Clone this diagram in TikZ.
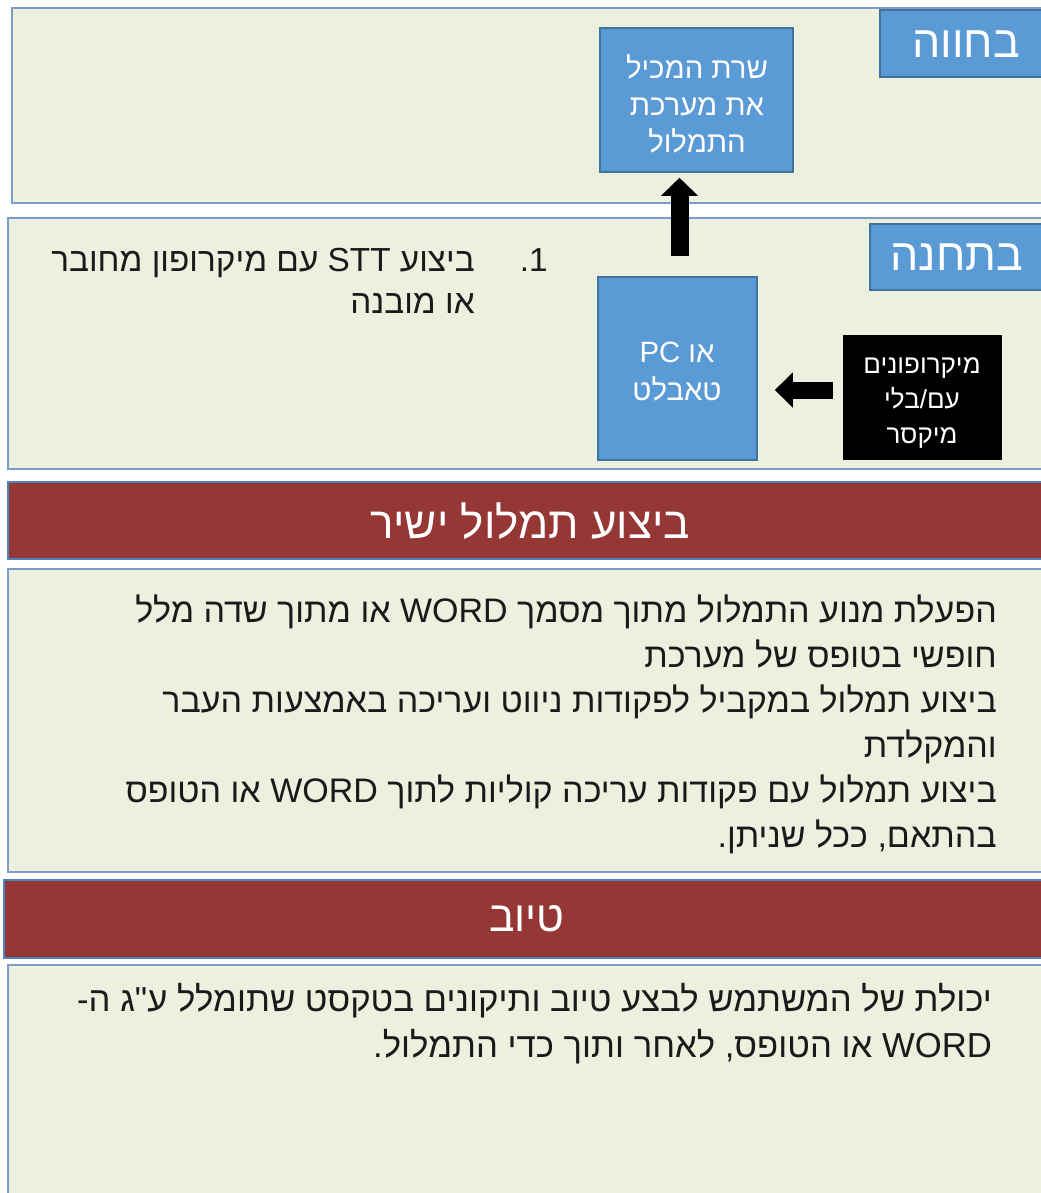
\documentclass[tikz,border=0pt]{standalone}
\usepackage{fontspec}
\setmainfont{Liberation Sans}
\newfontfamily\heb[Script=Hebrew]{Liberation Sans}
\TeXXeTstate=1
\usetikzlibrary{arrows.meta,fit}
\definecolor{panelfill}{HTML}{EBF1DE}
\definecolor{panelline}{HTML}{7A9CC6}
\definecolor{boxblue}{HTML}{5B9BD5}
\definecolor{boxline}{HTML}{41719C}
\definecolor{barred}{HTML}{953735}
\definecolor{barline}{HTML}{4F81BD}
\definecolor{textgray}{HTML}{1A1A1A}
\tikzset{
  panel/.style={draw=panelline, fill=panelfill, line width=2pt},
  barbox/.style={draw=barline, fill=barred, line width=2pt},
  bluebox/.style={draw=boxline, fill=boxblue, line width=1.2pt, inner sep=0pt, text=white, align=center},
  blackbox/.style={draw=black, fill=black, inner sep=0pt, text=white, align=center},
  bartext/.style={text=white, inner sep=0pt},
  labeltext/.style={text=white, inner sep=0pt, font=\heb\fontsize{33.5}{38}\selectfont},
  bodytext/.style={text=textgray, align=right, inner sep=0pt, font=\heb\fontsize{25.5}{33.75}\selectfont},
  boxtext/.style={text=white, align=center, inner sep=0pt},
  blockarrow/.style={draw=black, line width=13.5pt, -{Triangle[width=27pt,length=13.5pt]}},
}
\begin{document}
\begin{tikzpicture}[x=0.75pt,y=-0.75pt]
\useasboundingbox (0,0) rectangle (1041,1193);
\fill[white] (0,0) rectangle (1041,1193);

% panels and bars
\draw[panel] (12,8) rectangle (1050,203);
\draw[panel] (8,218) rectangle (1050,469);
\draw[barbox] (8,482) rectangle (1050,559);
\draw[panel] (8,569) rectangle (1050,872);
\draw[barbox] (4,880) rectangle (1050,958);
\draw[panel] (8,965) rectangle (1050,1210);

% labels
\node[bluebox, fit={(880,10) (1050,77)}] (farm) {};
\node[labeltext] (farmtxt) at (966,44) {\beginR בחווה\endR};
\node[bluebox, fit={(870,224) (1050,290)}] (station) {};
\node[labeltext] (stationtxt) at (957,257) {\beginR בתחנה\endR};

% boxes
\node[bluebox, fit={(600,28) (793,172)}] (server) {};
\node[boxtext, font=\heb\fontsize{22}{28}\selectfont] (servertxt) at (697,104)
  {\beginR שרת המכיל\endR\\\beginR את מערכת\endR\\\beginR התמלול\endR};
\node[bluebox, fit={(598,277) (757,460)}] (pc) {};
\node[boxtext, font=\heb\fontsize{22}{28.5}\selectfont] (pctxt) at (677,372)
  {PC או\\\beginR טאבלט\endR};
\node[blackbox, fit={(843,335) (1001,459)}] (mic) {};
\node[boxtext, font=\heb\fontsize{19.5}{26}\selectfont] (mictxt) at (922,403)
  {\beginR מיקרופונים\endR\\\beginR עם/בלי\endR\\\beginR מיקסר\endR};

% arrows
\draw[blockarrow, shorten <=15pt, shorten >=3.75pt] ([xshift=1.5pt]pc.north) -- ([xshift=1.5pt]pc.north |- server.south);
\draw[blockarrow, line width=12.75pt, -{Triangle[width=25.5pt,length=13.5pt]}, shorten <=7.5pt, shorten >=12.75pt]
  ([yshift=5.25pt]mic.west) -- ([yshift=5.25pt]mic.west -| pc.east);

% station list item
\node[text=textgray, inner sep=0pt, font=\heb\fontsize{25}{31.5}\selectfont, anchor=base east] (num) at (548,271) {\beginL 1.\endL};
\node[text=textgray, align=right, inner sep=0pt, font=\heb\fontsize{25}{31.5}\selectfont, anchor=base east] (item) at (475,313)
  {\beginR ביצוע \beginL STT\endL{} עם מיקרופון מחובר\endR\\\beginR או מובנה\endR};

% bars text
\node[bartext, font=\heb\fontsize{33}{38}\selectfont] (bar1) at (530,521) {\beginR ביצוע תמלול ישיר\endR};
\node[bartext, font=\heb\fontsize{32}{38}\selectfont] (bar2) at (527,919) {\beginR טיוב\endR};

% panel 3 text
\node[bodytext, anchor=base east] (direct) at (997,847)
  {\beginR הפעלת מנוע התמלול מתוך מסמך \beginL WORD\endL{} או מתוך שדה מלל\endR\\
   \beginR חופשי בטופס של מערכת\endR\\
   \beginR ביצוע תמלול במקביל לפקודות ניווט ועריכה באמצעות העבר\endR\\
   \beginR והמקלדת\endR\\
   \beginR ביצוע תמלול עם פקודות עריכה קוליות לתוך \beginL WORD\endL{} או הטופס\endR\\
   \beginR בהתאם, ככל שניתן.\endR};

% panel 4 text
\node[bodytext, font=\heb\fontsize{26}{34.5}\selectfont, anchor=base east] (refine) at (992,1057)
  {\beginR יכולת של המשתמש לבצע טיוב ותיקונים בטקסט שתומלל ע"ג ה-\endR\\
   \beginR \beginL WORD\endL{} או הטופס, לאחר ותוך כדי התמלול.\endR};
\end{tikzpicture}
\end{document}
